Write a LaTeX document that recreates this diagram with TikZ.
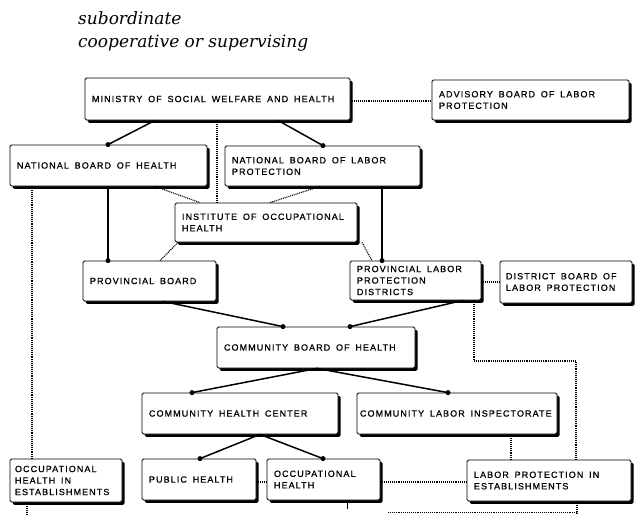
\documentclass[tikz,border=0pt]{standalone}
\usepackage{fontspec}
\newfontfamily\boxfont[LetterSpace=12,FakeBold=0.8]{Liberation Sans}
\newfontfamily\legfont{DejaVu Serif}
\newcommand\mywidesp{\spaceskip=5.8pt plus 1pt minus 0.5pt\relax\xspaceskip=\spaceskip\relax}
\usetikzlibrary{shadows,calc}
\begin{document}
\begin{tikzpicture}[x=1pt,y=-1pt,
  box/.style={draw, line width=0.8pt, fill=white, rounded corners=1.5pt,
    drop shadow={shadow xshift=2.6pt, shadow yshift=-2.8pt, fill=black, opacity=1},
    inner xsep=7pt, inner ysep=0pt, align=left,
    font=\boxfont\fontsize{9}{11.5}\selectfont, execute at begin node=\mywidesp},
  sub/.style={line width=1.5pt},
  coop/.style={dash pattern=on 1pt off 0.9pt, line width=1.1pt},
  dot/.style={circle, fill=black, inner sep=0pt, minimum size=5pt},
  legend/.style={anchor=base west, inner sep=0pt, font=\legfont\itshape\fontsize{17}{23}\selectfont}]
\useasboundingbox (0,0) rectangle (639,514);

% legend
\node[legend] (leg1) at (78,24) {subordinate};
\node[legend] (leg2) at (78,47) {cooperative or supervising};

% boxes
\node[box, text width=251pt, minimum height=42pt] (min) at (217.5,99) {MINISTRY OF SOCIAL WELFARE AND HEALTH};
\node[box, text width=183pt, minimum height=40pt] (adv) at (530.5,100) {ADVISORY BOARD OF LABOR\\PROTECTION};
\node[box, text width=183pt, minimum height=41pt] (nbh) at (108.5,165.5) {NATIONAL BOARD OF HEALTH};
\node[box, text width=181pt, minimum height=40pt] (nblp) at (322.5,166) {NATIONAL BOARD OF LABOR\\PROTECTION};
\node[box, text width=168pt, minimum height=39pt] (ioh) at (266,222.5) {INSTITUTE OF OCCUPATIONAL\\HEALTH};
\node[box, text width=119pt, minimum height=40pt] (pb) at (149.5,281) {PROVINCIAL BOARD};
\node[box, text width=117pt, minimum height=39pt] (plpd) at (415.5,280.5) {PROVINCIAL LABOR\\PROTECTION\\DISTRICTS};
\node[box, text width=120pt, inner xsep=6pt, minimum height=42pt] (dblp) at (566,282) {DISTRICT BOARD OF\\LABOR PROTECTION};
\node[box, text width=184pt, minimum height=41pt] (cbh) at (316,347.5) {COMMUNITY BOARD OF HEALTH};
\node[box, text width=182pt, minimum height=41pt] (chc) at (240,413.5) {COMMUNITY HEALTH CENTER};
\node[box, inner xsep=3pt, text width=194pt, minimum height=41pt] (cli) at (457,413.5) {COMMUNITY LABOR INSPECTORATE};
\node[box, text width=100pt, minimum height=41pt] (ph) at (199,479.5) {PUBLIC HEALTH};
\node[box, text width=99pt, minimum height=41pt] (oh) at (323.5,479.5) {OCCUPATIONAL\\HEALTH};
\node[box, inner xsep=5pt, text width=102pt, minimum height=43pt] (ohe) at (66,480.5) {OCCUPATIONAL\\HEALTH IN\\ESTABLISHMENTS};
\node[box, text width=150pt, minimum height=41pt] (lpe) at (549,480.5) {LABOR PROTECTION IN\\ESTABLISHMENTS};

% free ends
\coordinate (e1) at (27,514);
\coordinate (e2) at (577,514);
\coordinate (e3) at (388,512.5);
\coordinate (e4) at (577,512.5);
\coordinate (t1) at (347,509);

% subordinate connectors
\draw[sub] (155,0 |- min.south) -- (108,0 |- nbh.north) node[dot]{};
\draw[sub] (278,0 |- min.south) -- (323,0 |- nblp.north) node[dot]{};
\draw[sub] (108,0 |- nbh.south) -- (108,0 |- pb.north) node[dot]{};
\draw[sub] (382,0 |- nblp.south) -- (382,0 |- plpd.north) node[dot]{};
\draw[sub] (163,0 |- pb.south) -- (283,0 |- cbh.north) node[dot]{};
\draw[sub] (463,0 |- plpd.south) -- (350,0 |- cbh.north) node[dot]{};
\draw[sub] (317,0 |- cbh.south) -- (192,0 |- chc.north) node[dot]{};
\draw[sub] (317,0 |- cbh.south) -- (448,0 |- cli.north) node[dot]{};
\draw[sub] (260,0 |- chc.south) -- (200,0 |- ph.north) node[dot]{};
\draw[sub] (260,0 |- chc.south) -- (323,0 |- oh.north) node[dot]{};
\draw[line width=0.8pt] (347,0 |- oh.south) -- (t1);

% cooperative connectors
\draw[coop] (min.east |- 0,101) -- (adv.west |- 0,101);
\draw[coop] (217,0 |- min.south) -- (217,0 |- ioh.north);
\draw[coop] (155,0 |- nbh.south) -- (200,0 |- ioh.north);
\draw[coop] (320,0 |- nblp.south) -- (270,0 |- ioh.north);
\draw[coop] (178,0 |- ioh.south) -- (160,0 |- pb.north);
\draw[coop] (362,0 |- ioh.south) -- (372,0 |- plpd.north);
\draw[coop] (plpd.east |- 0,282) -- (dblp.west |- 0,282);
\draw[coop] (474,0 |- plpd.south) -- (474,361) -- (576,361) -- (576,0 |- lpe.north);
\draw[coop] (32,0 |- nbh.south) -- (32,0 |- ohe.north);
\draw[coop] (27,0 |- ohe.south) -- (e1);
\draw[coop] (511,0 |- cli.south) -- (511,0 |- lpe.north);
\draw[coop] (ph.east |- 0,482) -- (oh.west |- 0,482);
\draw[coop] (oh.east |- 0,482) -- (lpe.west |- 0,482);
\draw[coop] (577,0 |- lpe.south) -- (e2);
\draw[coop, line width=0.7pt] (e3) -- (e4);
\end{tikzpicture}
\end{document}
